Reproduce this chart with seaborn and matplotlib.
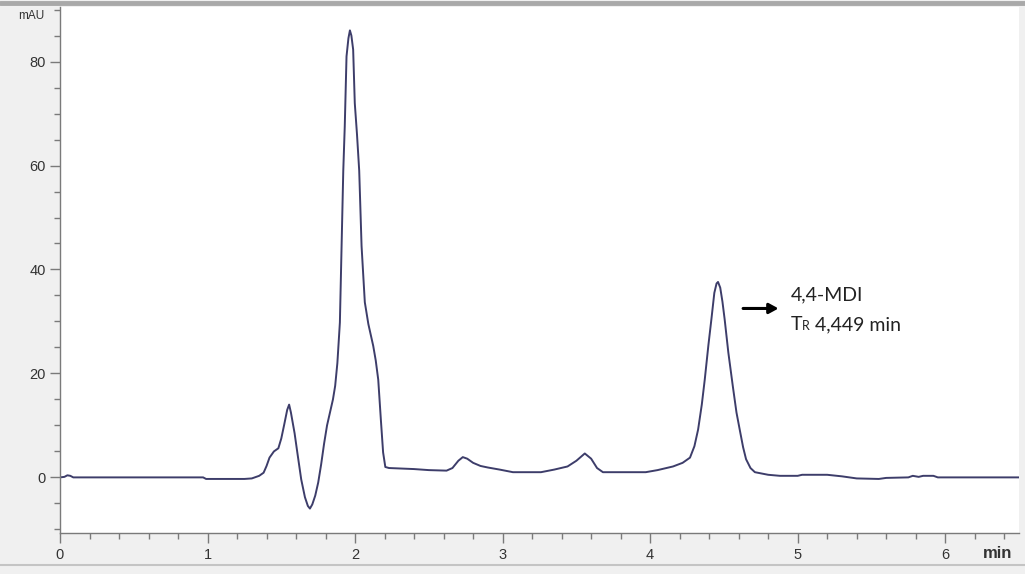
import numpy as np
import pandas as pd
import matplotlib
matplotlib.use("Agg")
import matplotlib.pyplot as plt
from matplotlib.lines import Line2D
from matplotlib.ticker import MultipleLocator
from matplotlib.offsetbox import TextArea, HPacker, AnnotationBbox
import seaborn as sns

# ---- data ----
time_min = [0.00, 0.03, 0.05, 0.07, 0.09, 0.50, 0.97, 0.99, 1.25, 1.30, 1.35, 1.38,
            1.40, 1.42, 1.45, 1.48, 1.50, 1.52, 1.54, 1.553, 1.565, 1.59, 1.61, 1.635,
            1.66, 1.68, 1.694, 1.71, 1.73, 1.75, 1.77, 1.79, 1.81, 1.83, 1.85, 1.865,
            1.88, 1.897, 1.908, 1.92, 1.93, 1.942, 1.955, 1.965, 1.975, 1.987, 1.998,
            2.013, 2.028, 2.044, 2.066, 2.09, 2.123, 2.14, 2.157, 2.175, 2.19, 2.205,
            2.23, 2.40, 2.50, 2.62, 2.66, 2.70, 2.73, 2.76, 2.80, 2.85, 2.90, 2.98,
            3.07, 3.26, 3.35, 3.44, 3.50, 3.557, 3.60, 3.64, 3.68, 3.97, 4.05, 4.155,
            4.22, 4.27, 4.30, 4.325, 4.35, 4.37, 4.395, 4.415, 4.435, 4.45, 4.46,
            4.475, 4.49, 4.505, 4.53, 4.56, 4.585, 4.607, 4.63, 4.65, 4.68, 4.71,
            4.80, 4.88, 5.00, 5.03, 5.20, 5.30, 5.40, 5.55, 5.60, 5.75, 5.78, 5.82,
            5.85, 5.92, 5.95, 6.50]
absorbance_mau = [0.0, 0.1, 0.4, 0.3, 0.0, 0.0, 0.0, -0.3, -0.3, -0.2, 0.3, 0.9,
                  2.2, 3.8, 5.0, 5.6, 7.5, 10.2, 13.0, 14.0, 12.5, 8.5, 4.5, -0.4,
                  -3.8, -5.5, -6.0, -5.2, -3.5, -1.0, 2.5, 6.5, 10.0, 12.5, 15.0, 17.6,
                  22.0, 29.8, 43.8, 59.0, 67.5, 81.0, 84.5, 86.0, 85.0, 82.3, 72.0,
                  66.0, 59.0, 44.5, 33.7, 29.5, 25.3, 22.5, 18.8, 11.0, 4.8, 2.0,
                  1.8, 1.6, 1.4, 1.3, 1.8, 3.2, 3.9, 3.6, 2.8, 2.2, 1.9, 1.5,
                  1.0, 1.0, 1.5, 2.1, 3.2, 4.6, 3.6, 1.8, 1.0, 1.0, 1.4, 2.1,
                  2.8, 3.8, 6.0, 9.2, 14.0, 18.8, 25.5, 30.4, 35.5, 37.3, 37.6,
                  36.5, 33.8, 30.4, 24.0, 17.6, 12.5, 9.2, 5.8, 3.5, 1.8, 1.0,
                  0.5, 0.3, 0.3, 0.5, 0.5, 0.2, -0.2, -0.3, -0.1, 0.0, 0.3, 0.1,
                  0.3, 0.3, 0.0, 0.0]

x_major_ticks = [0, 1, 2, 3, 4, 5, 6]
x_tick_labels = ["0", "1", "2", "3", "4", "5", "6"]
y_major_ticks = [0, 20, 40, 60, 80]
y_tick_labels = ["0", "20", "40", "60", "80"]

peak_name = "4,4-MDI"
peak_rt_label = " 4,449 min"

df = pd.DataFrame({"time": time_min, "mAU": absorbance_mau})

sns.set_style("ticks")
plt.rcParams["font.family"] = ["Liberation Sans", "DejaVu Sans"]

W, H = 1025, 574
fig = plt.figure(figsize=(W / 100, H / 100), dpi=100, facecolor="#f0f0f0")
ax = fig.add_axes([60 / W, 1 - 533 / H, (1019 - 60) / W, (533 - 7) / H])
ax.set_facecolor("white")

sns.lineplot(data=df, x="time", y="mAU", ax=ax, color="#3d3d6a",
             linewidth=1.4, sort=False, estimator=None)

ax.set_xlim(0, 6.5)
ax.set_ylim(-10.7, 90.5)
ax.set_xlabel("")
ax.set_ylabel("")

ax.set_xticks(x_major_ticks)
ax.set_xticklabels(x_tick_labels)
ax.set_yticks(y_major_ticks)
ax.set_yticklabels(y_tick_labels)
ax.xaxis.set_minor_locator(MultipleLocator(0.2))
ax.yaxis.set_minor_locator(MultipleLocator(5))

for s in ["top", "right"]:
    ax.spines[s].set_visible(False)
for s in ["left", "bottom"]:
    ax.spines[s].set_color("#7a7a7a")
    ax.spines[s].set_linewidth(1.0)

ax.tick_params(axis="both", which="major", length=7, width=1.0, color="#7a7a7a",
               labelsize=10.5, labelcolor="#333333")
ax.tick_params(axis="both", which="minor", length=4, width=1.0, color="#7a7a7a")
ax.tick_params(axis="x", which="major", pad=3.5)
ax.tick_params(axis="y", which="major", pad=3)

# axis unit labels
fig.text(31 / W, 1 - 16 / H, "mAU", ha="center", va="center", fontsize=8.5,
         color="#333333")
fig.text(998 / W, 1 - 554 / H, "min", ha="center", va="center", fontsize=12,
         fontweight="bold", color="#333333")

# annotation arrow and text
ax.annotate("", xy=(4.87, 32.5), xytext=(4.63, 32.5),
            arrowprops=dict(arrowstyle="-|>,head_length=0.55,head_width=0.3",
                            color="black", lw=2.2, shrinkA=0, shrinkB=0))
ann_font = ["Lato", "DejaVu Sans"]
ax.text(4.95, 35.2, peak_name, ha="left", va="center", fontsize=14,
        family=ann_font, color="#222222")
t1 = TextArea("T", textprops=dict(fontsize=14, family=ann_font, color="#222222"))
t2 = TextArea("R", textprops=dict(fontsize=9, family=ann_font, color="#222222"))
t3 = TextArea(peak_rt_label, textprops=dict(fontsize=14, family=ann_font, color="#222222"))
box = HPacker(children=[t1, t2, t3], align="baseline", pad=0, sep=0)
ab = AnnotationBbox(box, (4.95, 29.4), xycoords="data", box_alignment=(0, 0.5),
                    frameon=False, pad=0)
ax.add_artist(ab)

# window border decorations
fig.add_artist(Line2D([0, 1], [1 - 3 / H, 1 - 3 / H], color="#a9a9a9", lw=3.5,
                      transform=fig.transFigure))
fig.add_artist(Line2D([0, 1], [1 - 565 / H, 1 - 565 / H], color="#c4c4c4", lw=1.5,
                      transform=fig.transFigure))

fig.savefig("out.png", dpi=100, facecolor=fig.get_facecolor())
